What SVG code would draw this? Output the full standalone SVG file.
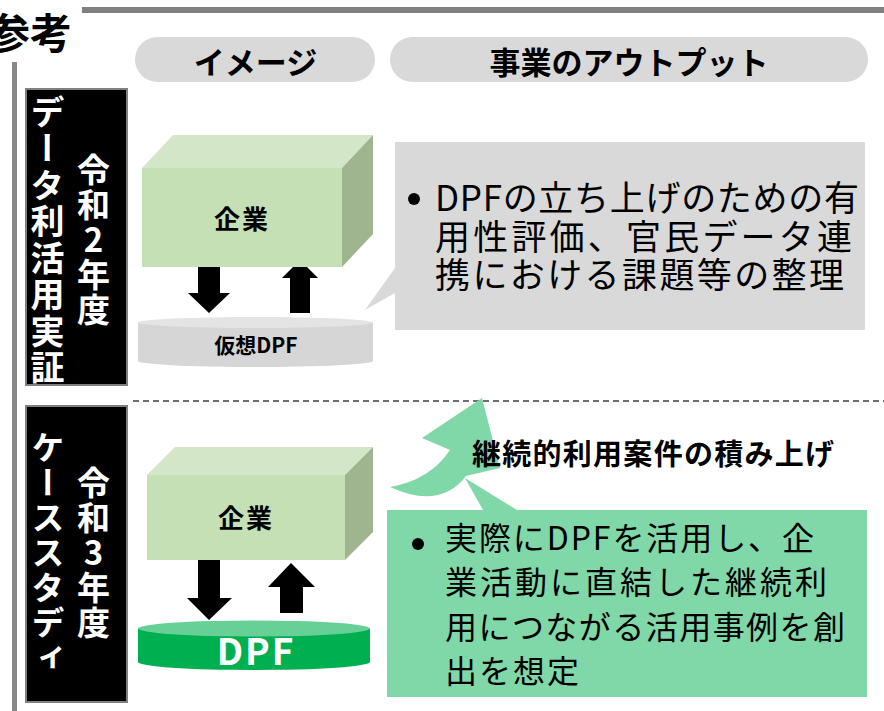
<svg xmlns="http://www.w3.org/2000/svg" width="884" height="711" viewBox="0 0 884 711">
<defs>
<style>
.jp{font-family:"Noto Sans CJK JP","Noto Sans",sans-serif;}
.b{font-weight:bold;}
.vt{writing-mode:vertical-rl;text-orientation:upright;fill:#fff;font-weight:bold;}
.pill{fill:#d9d9d9;}
.blk{fill:#000;stroke:#808080;stroke-width:2;}
.front{fill:#c5e0b4;}
.top{fill:#d3e6c7;}
.side{fill:#9eb590;}
.arr{fill:#000;}
</style>
<clipPath id="c1"><rect x="26" y="89" width="101" height="296"/></clipPath>
<clipPath id="c2"><rect x="26" y="406" width="101" height="296"/></clipPath>
</defs>

<g id="header">
<rect x="82" y="7" width="802" height="6" fill="#808080"/>
<rect x="12" y="62" width="5" height="649" fill="#888"/>
<text class="jp b" x="-12" y="49" font-size="42">参考</text>
</g>

<g id="pill-image">
<rect class="pill" x="135" y="37" width="240" height="45" rx="22.5"/>
<text class="jp b" x="255.5" y="74" font-size="31" text-anchor="middle">イメージ</text>
</g>
<g id="pill-output">
<rect class="pill" x="390" y="37" width="478" height="45" rx="22.5"/>
<text class="jp b" x="629" y="74" font-size="31" text-anchor="middle">事業のアウトプット</text>
</g>

<g id="label-r2">
<rect class="blk" x="26" y="89" width="101" height="296"/>
<g clip-path="url(#c1)">
<text class="jp vt" x="47.5" y="95" font-size="34" letter-spacing="2.5">データ利活用実証</text>
<text class="jp vt" x="93.5" y="153" font-size="33" letter-spacing="2">令和2年度</text>
</g>
</g>
<g id="label-r3">
<rect class="blk" x="26" y="406" width="101" height="296"/>
<g clip-path="url(#c2)">
<text class="jp vt" x="48" y="431" font-size="33" letter-spacing="2">ケーススタディ</text>
<text class="jp vt" x="93.5" y="466" font-size="33" letter-spacing="2">令和3年度</text>
</g>
</g>

<g id="connectors">
<line x1="133" y1="401" x2="884" y2="401" stroke="#404040" stroke-width="1.5" stroke-dasharray="6 4"/>
<polygon class="arr" points="198,267 220,267 220,293 230,293 209,313 188,293 198,293"/>
<polygon class="arr" points="290,313 310,313 310,278 318,278 300,260 282,278 290,278"/>
<polygon class="arr" points="198,560 220,560 220,598 232,598 209,620 187,598 198,598"/>
<polygon class="arr" points="280,613 303,613 303,587 315,587 291,563 268,587 280,587"/>
<path id="curved-arrow" d="M390,487 Q430,480 450,450 L422,438 L482,398 L500,468 L466,476 Q440,510 390,487 Z" fill="#80d8a8"/>
</g>

<g id="company-1">
<polygon class="top" points="142,168 173,135 373,135 342,168"/>
<polygon class="side" points="342,168 373,135 373,234 342,267"/>
<rect class="front" x="142" y="168" width="200" height="99"/>
<text class="jp b" x="242" y="229" font-size="26" letter-spacing="2" text-anchor="middle">企業</text>
</g>

<g id="virtual-dpf">
<path d="M138,322.5 L138,361 A117.5,6 0 0 0 373,361 L373,322.5 Z" fill="#d6d6d6"/>
<ellipse cx="255.5" cy="322.5" rx="117.5" ry="5.5" fill="#e4e4e4"/>
<text class="jp b" x="256" y="353" font-size="21" text-anchor="middle">仮想DPF</text>
</g>

<g id="output-r2">
<polygon points="395,268 365,310 395,293" fill="#d9d9d9"/>
<rect x="395" y="142" width="470" height="188" fill="#d9d9d9"/>
<circle cx="414" cy="199" r="6" fill="#000"/>
<text class="jp" x="435" y="211" font-size="35" textLength="424" lengthAdjust="spacing">DPFの立ち上げのための有</text>
<text class="jp" x="435" y="250" font-size="35" textLength="417" lengthAdjust="spacing">用性評価、官民データ連</text>
<text class="jp" x="435" y="288" font-size="35" textLength="409" lengthAdjust="spacing">携における課題等の整理</text>
</g>

<g id="company-2">
<polygon class="top" points="147,475 175,447 373,447 345,475"/>
<polygon class="side" points="345,475 373,447 373,532 345,560"/>
<rect class="front" x="147" y="475" width="198" height="85"/>
<text class="jp b" x="246" y="528" font-size="26" letter-spacing="2" text-anchor="middle">企業</text>
</g>

<g id="dpf">
<path d="M138,628.5 L138,662 A116,8 0 0 0 370,662 L370,628.5 Z" fill="#00b050"/>
<ellipse cx="254" cy="628.5" rx="116" ry="8" fill="#66d097"/>
<text class="jp b" x="256" y="665" font-size="37" letter-spacing="2" fill="#fff" text-anchor="middle">DPF</text>
</g>

<g id="accumulate-label">
<text class="jp b" x="472" y="465" font-size="29" textLength="362" lengthAdjust="spacing">継続的利用案件の積み上げ</text>
</g>

<g id="output-r3">
<polygon points="465,478 483,510 517,510" fill="#80d8a8"/>
<rect x="387" y="510" width="480" height="187" fill="#80d8a8"/>
<circle cx="418" cy="544" r="6" fill="#000"/>
<text class="jp" x="445" y="550" font-size="32" textLength="369" lengthAdjust="spacing">実際にDPFを活用し、企</text>
<text class="jp" x="445" y="594" font-size="32" textLength="382" lengthAdjust="spacing">業活動に直結した継続利</text>
<text class="jp" x="445" y="639" font-size="32" textLength="400" lengthAdjust="spacing">用につながる活用事例を創</text>
<text class="jp" x="445" y="683" font-size="32" textLength="134" lengthAdjust="spacing">出を想定</text>
</g>
</svg>
